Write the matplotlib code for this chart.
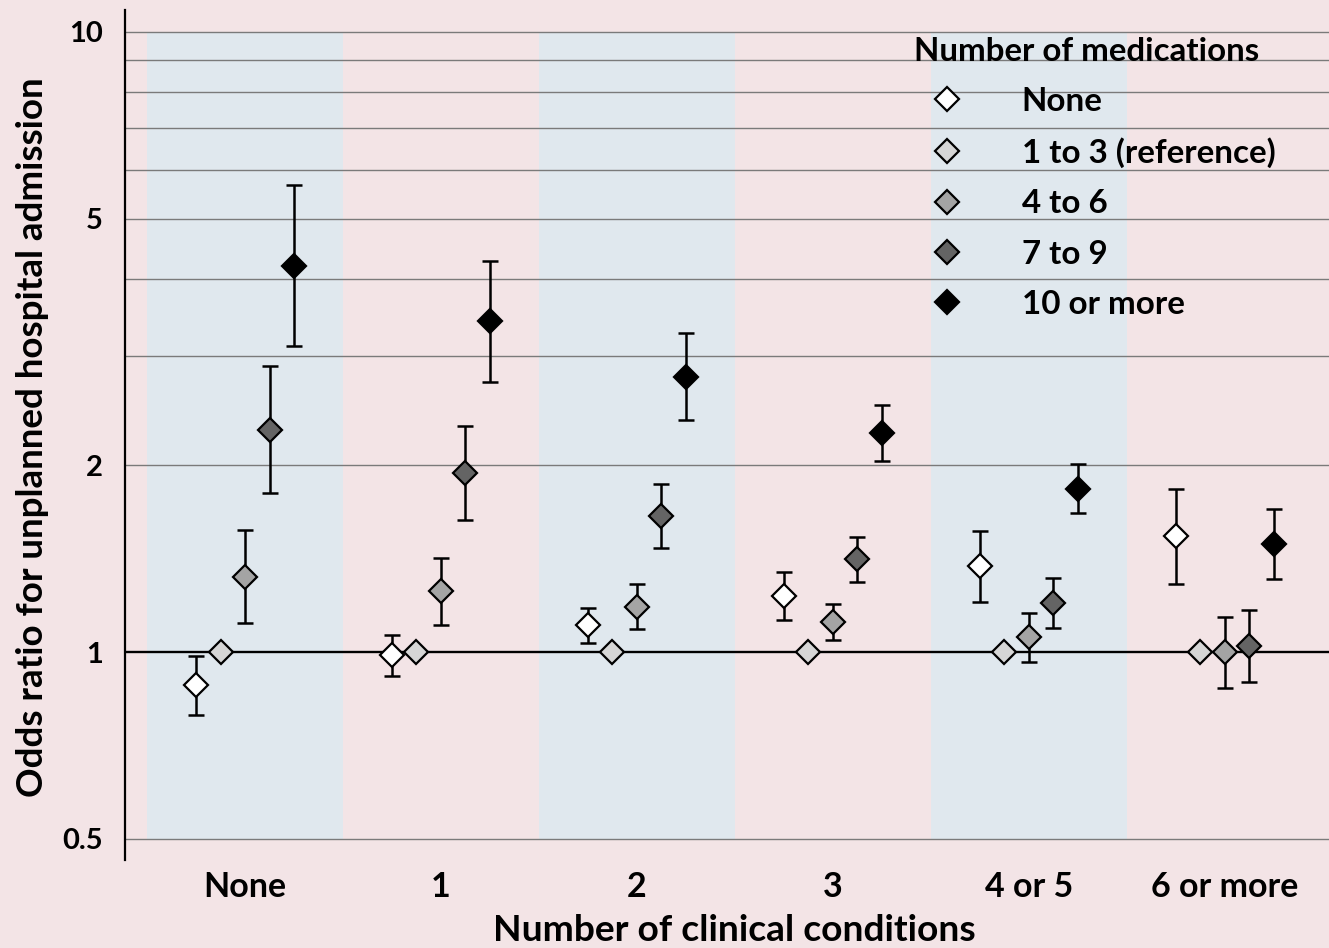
import matplotlib
matplotlib.use("Agg")
import matplotlib.pyplot as plt
from matplotlib.lines import Line2D
import numpy as np

# ---- data ----
conditions = ["None", "1", "2", "3", "4 or 5", "6 or more"]
med_groups = ["None", "1 to 3 (reference)", "4 to 6", "7 to 9", "10 or more"]
med_colors = ["#ffffff", "#d6d6d6", "#a4a4a4", "#646464", "#000000"]

# odds ratios, one list per medication group (across clinical conditions)
or_none = [0.885, 0.989, 1.105, 1.231, 1.378, 1.538]
or_ref = [1.0, 1.0, 1.0, 1.0, 1.0, 1.0]
or_4to6 = [1.32, 1.254, 1.182, 1.118, 1.056, 1.0]
or_7to9 = [2.28, 1.944, 1.657, 1.413, 1.2, 1.024]
or_10plus = [4.19, 3.42, 2.78, 2.256, 1.834, 1.494]

# 95% CI lower / upper (reference group has none)
lo_none = [0.791, 0.915, 1.034, 1.126, 1.205, 1.289]
hi_none = [0.985, 1.065, 1.178, 1.346, 1.567, 1.834]
lo_4to6 = [1.114, 1.105, 1.089, 1.045, 0.965, 0.874]
hi_4to6 = [1.573, 1.418, 1.287, 1.195, 1.156, 1.139]
lo_7to9 = [1.805, 1.633, 1.472, 1.297, 1.094, 0.894]
hi_7to9 = [2.89, 2.315, 1.866, 1.533, 1.315, 1.169]
lo_10plus = [3.12, 2.73, 2.366, 2.033, 1.674, 1.31]
hi_10plus = [5.67, 4.27, 3.27, 2.502, 2.012, 1.703]

y_ticks = [0.5, 1, 2, 5, 10]
grid_vals = [0.5, 2, 3, 4, 5, 6, 7, 8, 9, 10]

series = [
    (or_none, lo_none, hi_none),
    (or_ref, None, None),
    (or_4to6, lo_4to6, hi_4to6),
    (or_7to9, lo_7to9, hi_7to9),
    (or_10plus, lo_10plus, hi_10plus),
]
offsets = [-0.25, -0.125, 0.0, 0.125, 0.25]

FONT = "Lato"
WEIGHT = "bold"
BG = "#f3e4e6"
BAND = "#e0e8ee"

fig = plt.figure(figsize=(13.29, 9.48), dpi=100, facecolor=BG)
ax = fig.add_axes([0.0941, 0.0928, 0.9059, 0.8967])
ax.set_facecolor(BG)
ax.set_yscale("log")
ax.set_ylim(0.462, 10.85)
ax.set_xlim(-0.612, 5.531)

# shaded columns
x = np.arange(len(conditions))
for i in x[::2]:
    ax.fill_between([i - 0.5, i + 0.5], 0.5, 10, color=BAND, lw=0, zorder=0)

# grid lines and reference line
for g in grid_vals:
    ax.axhline(g, color="#7a7a7a", lw=1.0, zorder=1)
ax.axhline(1, color="black", lw=1.7, zorder=1)

# points with error bars
for (vals, lo, hi), off, col in zip(series, offsets, med_colors):
    xs = x + off
    vals = np.array(vals)
    if lo is not None:
        yerr = [vals - np.array(lo), np.array(hi) - vals]
        ax.errorbar(xs, vals, yerr=yerr, fmt="none", ecolor="black",
                    elinewidth=1.8, capsize=6, capthick=1.8, zorder=3)
    ax.plot(xs, vals, ls="none", marker="D", ms=12.3, mfc=col,
            mec="black", mew=1.6, zorder=4)

# axes styling
for s in ["top", "right", "bottom"]:
    ax.spines[s].set_visible(False)
ax.spines["left"].set_linewidth(1.6)
ax.set_yticks(y_ticks)
ax.set_yticklabels(["0.5", "1", "2", "5", "10"])
ax.yaxis.set_minor_locator(matplotlib.ticker.NullLocator())
ax.tick_params(axis="y", direction="in", length=0, pad=16)
ax.set_xticks(x)
ax.set_xticklabels(conditions)
ax.tick_params(axis="x", length=0, pad=8)
for lab in ax.get_yticklabels():
    lab.set_fontfamily(FONT)
    lab.set_fontweight(WEIGHT)
    lab.set_fontsize(21)
for lab in ax.get_xticklabels():
    lab.set_fontfamily(FONT)
    lab.set_fontweight(WEIGHT)
    lab.set_fontsize(24.5)

ax.set_xlabel("Number of clinical conditions", fontfamily=FONT,
              fontweight=WEIGHT, fontsize=26.7)
ax.xaxis.set_label_coords(0.506, -0.063)
ax.set_ylabel("Odds ratio for unplanned hospital admission", fontfamily=FONT,
              fontweight=WEIGHT, fontsize=26.5)
ax.yaxis.set_label_coords(-0.063, 0.498)

# legend
handles = [Line2D([], [], ls="none", marker="D", ms=12.3, mfc=c, mec="black",
                  mew=1.6) for c in med_colors]
leg = ax.legend(handles, med_groups, loc="upper left",
                bbox_to_anchor=(0.644, 0.984), frameon=False,
                title="Number of medications", alignment="left",
                prop={"family": FONT, "weight": WEIGHT, "size": 23.9},
                title_fontproperties={"family": FONT, "weight": WEIGHT, "size": 23.8},
                handletextpad=1.25, labelspacing=0.64, borderaxespad=0)

fig.savefig("out.png", dpi=100, facecolor=BG)
